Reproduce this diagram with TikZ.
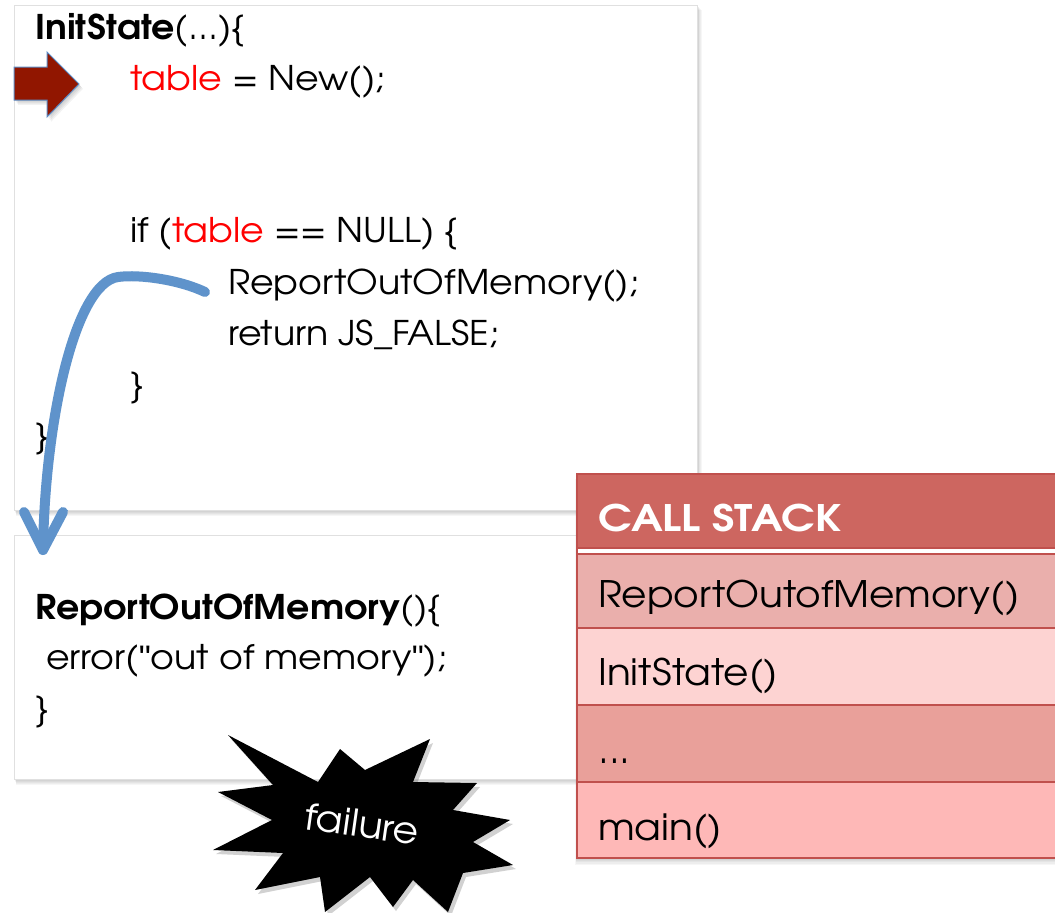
\documentclass[tikz,border=0pt]{standalone}
\usepackage{fontspec}
\setmainfont{TeX Gyre Adventor}[FakeStretch=1.07]
\newfontfamily\quotefont{Liberation Sans}
\newcommand{\sq}{{\quotefont"}}
\usetikzlibrary{calc}
\definecolor{codered}{RGB}{255,0,0}
\definecolor{arrowred}{RGB}{145,22,0}
\definecolor{arrowedge}{RGB}{91,139,197}
\definecolor{flowblue}{RGB}{95,147,203}
\definecolor{stackhead}{RGB}{205,102,96}
\definecolor{stackone}{RGB}{234,175,172}
\definecolor{stacktwo}{RGB}{253,211,210}
\definecolor{stackthree}{RGB}{233,160,154}
\definecolor{stackfour}{RGB}{254,184,183}
\definecolor{stackline}{RGB}{192,80,77}
\begin{document}
\begin{tikzpicture}[x=1pt,y=-1pt,
  codeline/.style={anchor=base west, inner sep=0pt, font=\fontsize{34}{34}\selectfont},
  stacktext/.style={anchor=base west, inner sep=0pt, font=\fontsize{36.5}{36.5}\selectfont},
  panel/.style={fill=white, draw=black!12, line width=0.8pt},
  stackrow/.style={draw=stackline, line width=1.2pt},
  flow/.style={draw=flowblue, line width=10pt, line cap=round, line join=round}]
\useasboundingbox (0,0) rectangle (1055,913);
\fill[white] (0,0) rectangle (1055,913);

% soft shadows under the two code panels
\foreach \d in {1,...,6}{
  \fill[black, opacity=0.035] (14+\d*0.4,5+\d*0.8) rectangle (697+\d*0.8,510+\d*1.0);
  \fill[black, opacity=0.035] (14+\d*0.4,535+\d*0.8) rectangle (697+\d*0.8,779+\d*1.0);
}
% lower panel: the called function
\path[panel] (14,535) rectangle (697,779);
\node[codeline] (r1) at (35,619) {\textbf{ReportOutOfMemory}()\{};
\node[codeline] (r2) at (46,669) {error(\sq out of memory\sq);};
\node[codeline] (r3) at (35,720) {\}};

% upper panel: the caller
\path[panel] (14,5) rectangle (697,510);
\node[codeline] (c1) at (35,39) {\textbf{InitState}(...)\{};
\node[codeline] (c2) at (130,90) {\textcolor{codered}{table} = New();};
\node[codeline] (c3) at (130,242) {if (\textcolor{codered}{table} == NULL) \{};
\node[codeline] (c4) at (228,294) {ReportOutOfMemory();};
\node[codeline] (c5) at (228,345) {return JS\_FALSE;};
\node[codeline] (c6) at (130,396) {\}};
\node[codeline] (c7) at (35,447) {\}};

% current-line marker
\foreach \d in {1,...,4}{
  \fill[black, opacity=0.05] (14+\d,67+\d*1.2) -- (47+\d,67+\d*1.2) -- (47+\d,52+\d*1.2) -- (79+\d,84+\d*1.2)
    -- (47+\d,117+\d*1.2) -- (47+\d,100+\d*1.2) -- (14+\d,100+\d*1.2) -- cycle;
}
\filldraw[fill=arrowred, draw=arrowedge, line width=1pt]
  (14,67) -- (47,67) -- (47,52) -- (79,84) -- (47,117) -- (47,100) -- (14,100) -- cycle;

% control flow from the call into the lower panel
\coordinate (from) at ($(c4.base west)+(-23,-2)$);
\coordinate (bend) at (118,277);
\coordinate (to) at (43,550);
\draw[flow] (from) .. controls (180,280) and (140,274) .. (bend)
  .. controls (75,283) and (45,420) .. (to);
\draw[flow] (24,512) -- (to) -- (63,512);

% call stack table
\foreach \d in {1,...,6}{
  \fill[black, opacity=0.035] (577-\d*0.3,474+\d*0.9) rectangle (1060,858+\d*1.1);
}
\fill[white] (577,474) rectangle (1060,858);
\path[stackrow, fill=stackhead] (577,474) rectangle (1060,548);
\path[stackrow, fill=stackone] (577,554) rectangle (1060,628);
\path[stackrow, fill=stacktwo] (577,628) rectangle (1060,705);
\path[stackrow, fill=stackthree] (577,705) rectangle (1060,782);
\path[stackrow, fill=stackfour] (577,782) rectangle (1060,858);
\draw[stackline, line width=1.2pt] (577,474) -- (577,858);
\node[stacktext, text=white] (sh) at (598,531) {\scalebox{1.1}[1]{\textbf{CALL STACK}}};
\node[stacktext] (s1) at (598,607) {ReportOutofMemory()};
\node[stacktext] (s2) at (598,685) {InitState()};
\node[stacktext] (s3) at (598,763) {...};
\node[stacktext] (s4) at (598,840) {main()};

% failure burst
\def\burst{(228,735) -- (318,782) -- (340,749) -- (365,770) -- (430,739) -- (413,782)
  -- (477,783) -- (453,810) -- (510,820) -- (473,842) -- (513,865) -- (463,873)
  -- (448,912) -- (413,880) -- (393,907) -- (370,877) -- (325,912) -- (320,877)
  -- (255,890) -- (283,853) -- (213,850) -- (272,820) -- (218,792) -- (273,785) -- cycle}
\begin{scope}[shift={(3,4)}]
  \fill[black, opacity=0.18] \burst;
\end{scope}
\fill[black] \burst;
\node[inner sep=0pt, text=white, rotate=-8, font=\fontsize{37}{37}\selectfont] (fail) at (362,824) {failure};
\end{tikzpicture}
\end{document}
